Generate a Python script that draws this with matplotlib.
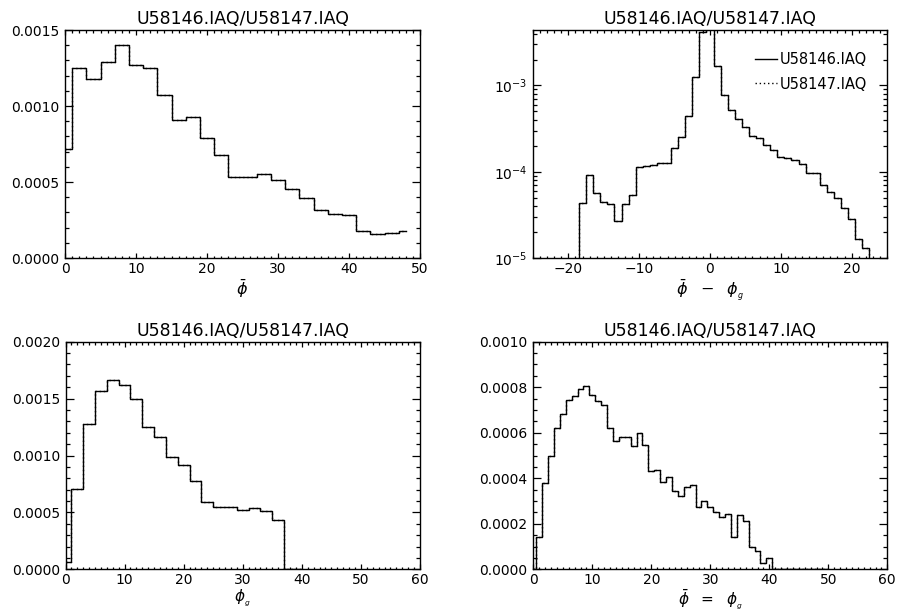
import matplotlib
matplotlib.use("Agg")
import matplotlib.pyplot as plt
from matplotlib.ticker import MultipleLocator, FormatStrFormatter, LogLocator, NullFormatter

plt.rcParams['font.family'] = 'DejaVu Sans'
plt.rcParams['mathtext.fontset'] = 'dejavusans'

title = "U58146.IAQ/U58147.IAQ"
files = ["U58146.IAQ", "U58147.IAQ"]

# top left: distribution of phi-bar
phibar_x = [0, 2, 4, 6, 8, 10, 12, 14, 16, 18, 20, 22, 24, 26, 28, 30, 32, 34, 36, 38, 40, 42, 44, 46, 48]
phibar_y = [0.000718, 0.00125, 0.00118, 0.00129, 0.00140, 0.00127, 0.00125, 0.00107, 0.00091, 0.00093,
            0.00079, 0.00068, 0.00053, 0.00053, 0.00055, 0.00051, 0.000455, 0.000398, 0.000313, 0.00029,
            0.000282, 0.00018, 0.000158, 0.000166, 0.00018]

# top right: phi-bar minus phi_g (log)
diff_x = list(range(-19, 24))
diff_y = [0, 4.3e-5, 9.1e-5, 5.6e-5, 4.5e-5, 4.2e-5, 2.7e-5, 4.2e-5, 5.4e-5, 1.14e-4,
          1.17e-4, 1.19e-4, 1.28e-4, 1.25e-4, 1.88e-4, 2.5e-4, 4.47e-4, 1.25e-3, 4.2e-3, 6.0e-3,
          1.69e-3, 7.86e-4, 5.26e-4, 4.1e-4, 3.28e-4, 2.58e-4, 2.46e-4, 2.06e-4, 1.8e-4, 1.49e-4,
          1.46e-4, 1.38e-4, 1.23e-4, 9.6e-5, 9.6e-5, 7.1e-5, 5.75e-5, 5.0e-5, 3.78e-5, 2.8e-5,
          1.65e-5, 1.29e-5, 0]

# bottom left: phi_g
phig_x = [0, 2, 4, 6, 8, 10, 12, 14, 16, 18, 20, 22, 24, 26, 28, 30, 32, 34, 36, 38, 40]
phig_y = [0.000067, 0.000705, 0.00128, 0.00157, 0.00166, 0.00162, 0.0015, 0.00125, 0.00116, 0.00099,
          0.00092, 0.00078, 0.00059, 0.00055, 0.00055, 0.00052, 0.00054, 0.00051, 0.00043, 0, 0]

# bottom right: phi-bar = phi_g
eq_x = list(range(0, 51))
eq_y = [0, 0.000142, 0.000377, 0.000497, 0.000621, 0.000684, 0.000746, 0.00076, 0.00079, 0.000806,
        0.000765, 0.00074, 0.00072, 0.00062, 0.000563, 0.000582, 0.000582, 0.00054, 0.000598, 0.000547,
        0.000434, 0.000437, 0.000385, 0.000407, 0.000346, 0.00032, 0.00036, 0.000369, 0.000272, 0.0003,
        0.000275, 0.000253, 0.000229, 0.000242, 0.000144, 0.000239, 0.000214, 0.0001, 0.000082, 0.000026,
        0.000051, 0, 0, 0, 0, 0, 0, 0, 0, 0, 0]

fig = plt.figure(figsize=(8.97, 6.12), dpi=100)
W, H = 897.0, 612.0


def make_axes(left, top, right, bottom):
    return fig.add_axes([left / W, 1 - bottom / H, (right - left) / W, (bottom - top) / H])


def draw(ax, x, y):
    ax.step(x, y, where='mid', color='black', lw=1.0, ls='-', label=files[0])
    ax.step(x, y, where='mid', color='black', lw=1.0, ls=(0, (1, 2)), label=files[1])
    ax.set_title(title, fontsize=12.5, pad=4)
    for s in ax.spines.values():
        s.set_linewidth(1.0)
    ax.tick_params(which='both', direction='in', top=True, right=True, labelsize=10, width=0.9)
    ax.tick_params(axis='x', which='major', length=3.5, pad=3)
    ax.tick_params(axis='x', which='minor', length=1.8)
    ax.tick_params(axis='y', which='major', length=5.5, pad=4)
    ax.tick_params(axis='y', which='minor', length=2.8)


ax1 = make_axes(65, 30, 420, 258)
draw(ax1, phibar_x, phibar_y)
ax1.set_xlim(0, 50)
ax1.set_ylim(0, 0.0015)
ax1.xaxis.set_major_locator(MultipleLocator(10))
ax1.xaxis.set_minor_locator(MultipleLocator(1))
ax1.yaxis.set_major_locator(MultipleLocator(0.0005))
ax1.yaxis.set_minor_locator(MultipleLocator(0.0001))
ax1.yaxis.set_major_formatter(FormatStrFormatter('%.4f'))
ax1.set_xlabel(r'$\bar{\phi}$', fontsize=11.5, labelpad=1)

ax2 = make_axes(533, 30, 887, 258)
ax2.set_yscale('log', nonpositive='clip')
draw(ax2, diff_x, diff_y)
ax2.set_xlim(-25, 25)
ax2.set_ylim(1e-5, 4.4e-3)
ax2.xaxis.set_major_locator(MultipleLocator(10))
ax2.xaxis.set_minor_locator(MultipleLocator(1))
ax2.yaxis.set_major_locator(LogLocator(base=10))
ax2.yaxis.set_minor_locator(LogLocator(base=10, subs=range(2, 10)))
ax2.yaxis.set_minor_formatter(NullFormatter())
ax2.set_xlabel(r'$\bar{\phi}\ \ -\ \ \phi_{_g}$', fontsize=11.5, labelpad=1)
ax2.legend(loc='upper right', bbox_to_anchor=(0.965, 0.935), frameon=False, fontsize=10.5,
           handlelength=1.5, handletextpad=0.2, labelspacing=0.65, borderpad=0)

ax3 = make_axes(65.5, 341.7, 420, 569.3)
draw(ax3, phig_x, phig_y)
ax3.set_xlim(0, 60)
ax3.set_ylim(0, 0.0020)
ax3.xaxis.set_major_locator(MultipleLocator(10))
ax3.xaxis.set_minor_locator(MultipleLocator(1))
ax3.yaxis.set_major_locator(MultipleLocator(0.0005))
ax3.yaxis.set_minor_locator(MultipleLocator(0.0001))
ax3.yaxis.set_major_formatter(FormatStrFormatter('%.4f'))
ax3.set_xlabel(r'$\phi_{_g}$', fontsize=11, labelpad=0)

ax4 = make_axes(533.3, 341.7, 887.3, 569.3)
draw(ax4, eq_x, eq_y)
ax4.set_xlim(0, 60)
ax4.set_ylim(0, 0.0010)
ax4.xaxis.set_major_locator(MultipleLocator(10))
ax4.xaxis.set_minor_locator(MultipleLocator(1))
ax4.yaxis.set_major_locator(MultipleLocator(0.0002))
ax4.yaxis.set_minor_locator(MultipleLocator(0.00005))
ax4.yaxis.set_major_formatter(FormatStrFormatter('%.4f'))
ax4.set_xlabel(r'$\bar{\phi}\ \ =\ \ \phi_{_g}$', fontsize=11, labelpad=0)

fig.savefig("out.png", dpi=100)
